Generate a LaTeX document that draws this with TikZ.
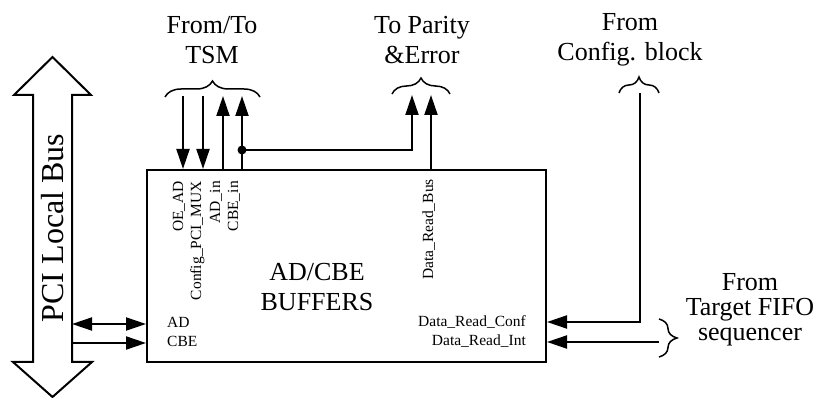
\documentclass[tikz,border=0pt]{standalone}
\usepackage{fontspec}
\setmainfont{Liberation Serif}
\usetikzlibrary{arrows.meta,decorations.pathreplacing}

\begin{document}
\begin{tikzpicture}[x=1pt,y=-1pt,
  wire/.style={line width=2pt},
  sigarrow/.style={wire, -{Triangle[length=20pt,width=13pt]}},
  bracket/.style={line width=1.5pt, decorate, decoration={brace, amplitude=16pt}},
  biglabel/.style={font=\fontsize{26}{30}\selectfont, align=center},
  pinlabel/.style={font=\fontsize{15.5}{18}\selectfont, inner sep=0pt}]
  \useasboundingbox (0,0) rectangle (823,398);

  % PCI bus (double block arrow)
  \draw[wire, line join=miter]
    (52.5,57) -- (91,95) -- (72,95) -- (72,362) -- (92,362) -- (52.5,397)
    -- (13,362) -- (33,362) -- (33,95) -- (14,95) -- cycle;
  \node[rotate=90, anchor=base, font=\fontsize{32}{32}\selectfont] (pcitxt)
    at (63,228) {PCI Local Bus};

  % Buffer block
  \node[draw, wire, minimum width=399pt, minimum height=192pt, inner sep=0pt]
    (buf) at (346.5,266) {};
  \node[biglabel] (buftxt) at (317,287) {AD/CBE\\BUFFERS};

  % Pin names
  \node[pinlabel, rotate=90, anchor=base east] (oead) at (183,181) {OE\_AD};
  \node[pinlabel, rotate=90, anchor=base east] (cfgmux) at (201,181) {Config\_PCI\_MUX};
  \node[pinlabel, rotate=90, anchor=base east] (adin) at (220,181) {AD\_in};
  \node[pinlabel, rotate=90, anchor=base east] (cbein) at (238,181) {CBE\_in};
  \node[pinlabel, rotate=90, anchor=base east] (dbus) at (433,179) {Data\_Read\_Bus};
  \node[pinlabel, anchor=base west] (adlbl) at (167,328) {AD};
  \node[pinlabel, anchor=base west] (cbelbl) at (167,347) {CBE};
  \node[pinlabel, anchor=base east] (dconf) at (526,327) {Data\_Read\_Conf};
  \node[pinlabel, anchor=base east] (dint) at (526,346) {Data\_Read\_Int};

  % Bus side
  \coordinate (adL) at (72,324);
  \coordinate (cbeL) at (72,343);
  \draw[wire, {Triangle[length=20pt,width=13pt]}-{Triangle[length=20pt,width=13pt]}]
    (adL) -- (adL -| buf.west);
  \draw[sigarrow] (cbeL) -- (cbeL -| buf.west);

  % TSM signals
  \coordinate (tsm1) at (183,96);
  \coordinate (tsm2) at (203,96);
  \coordinate (tsm3) at (223,96);
  \coordinate (tsm4) at (242,96);
  \draw[sigarrow] (tsm1) -- (tsm1 |- buf.north);
  \draw[sigarrow] (tsm2) -- (tsm2 |- buf.north);
  \draw[sigarrow] (tsm3 |- buf.north) -- (tsm3);
  \draw[sigarrow] (tsm4 |- buf.north) -- (tsm4);
  \draw[bracket] (165,97) -- (260,97);
  \node[biglabel] (tsmtxt) at (212,40) {From/To\\TSM};

  % Parity and error
  \coordinate (tap) at (242,150);
  \coordinate (par1) at (412,95);
  \coordinate (par2) at (431,95);
  \fill (tap) circle (4.5pt);
  \draw[sigarrow] (tap) -- (tap -| par1) -- (par1);
  \draw[sigarrow] (par2 |- buf.north) -- (par2);
  \draw[bracket] (392,94) -- (450,94);
  \node[biglabel] (partxt) at (422,40) {To Parity\\\&Error};

  % Config block
  \coordinate (cfg) at (640,93);
  \coordinate (confR) at (640,322);
  \draw[sigarrow] (cfg) -- (confR) -- (confR -| buf.east);
  \draw[bracket] (619,93) -- (659,93);
  \node[biglabel] (cfgtxt) at (630,40) {From\\Config. block};

  % Target FIFO sequencer
  \coordinate (fifo) at (659,342);
  \draw[sigarrow] (fifo) -- (fifo -| buf.east);
  \draw[bracket, decoration={amplitude=18pt}] (659,319) -- (659,357);
  \node[biglabel, font=\fontsize{26}{25}\selectfont] (fifotxt) at (750,310)
    {From\\Target FIFO\\sequencer};
\end{tikzpicture}
\end{document}
